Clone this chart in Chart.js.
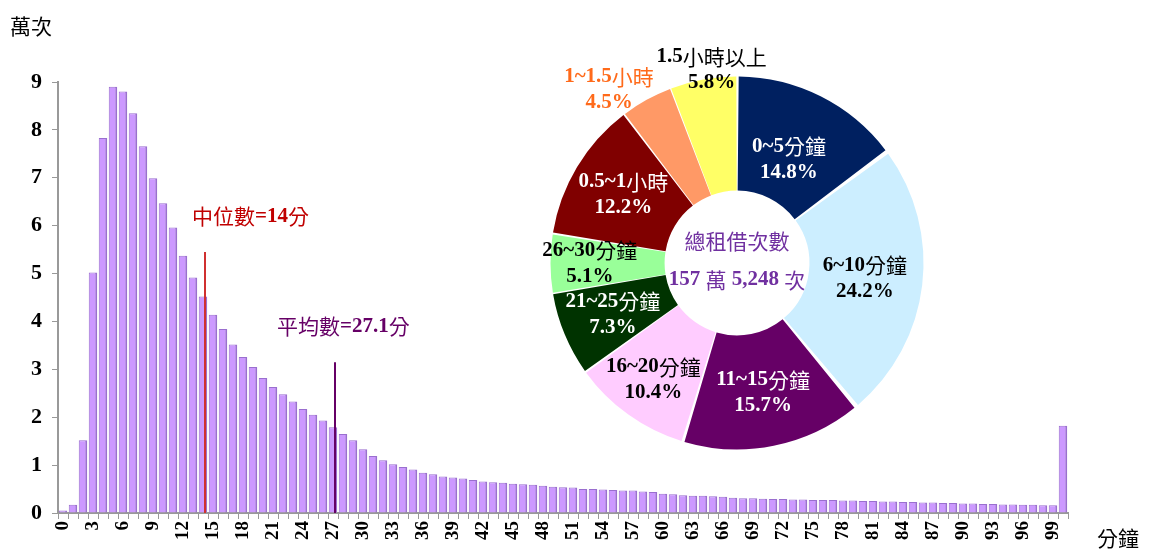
<!DOCTYPE html>
<html>
<head>
<meta charset="utf-8">
<script src="https://cdn.jsdelivr.net/npm/chart.js@4.4.6/dist/chart.umd.js"></script>
<style>
body { margin: 0; background: #fff; }
#wrap { position: relative; width: 1149px; height: 550px; }
#barChart { position: absolute; left: 0; top: 0; }
#pieChart { position: absolute; left: 517px; top: 33px; }
</style>
</head>
<body>
<div id="wrap">
  <canvas id="barChart" width="1149" height="550"></canvas>
  <canvas id="pieChart" width="440" height="460"></canvas>
</div>
<script>
// rental duration in minutes (0..100, last bar = 100+)
const minuteLabels = Array.from({ length: 101 }, (_, i) => String(i));
// rentals per minute, unit: 10,000
const rentals = [
  0.05, 0.17, 1.52, 5.02, 7.83, 8.90, 8.80, 8.35, 7.66, 6.99,
  6.47, 5.96, 5.37, 4.92, 4.52, 4.14, 3.84, 3.52, 3.26, 3.05,
  2.82, 2.63, 2.48, 2.33, 2.17, 2.05, 1.93, 1.79, 1.65, 1.52,
  1.33, 1.19, 1.10, 1.02, 0.96, 0.91, 0.84, 0.81, 0.76, 0.74,
  0.72, 0.69, 0.66, 0.64, 0.63, 0.61, 0.60, 0.59, 0.57, 0.55,
  0.54, 0.53, 0.50, 0.50, 0.49, 0.48, 0.47, 0.47, 0.45, 0.44,
  0.40, 0.39, 0.37, 0.36, 0.36, 0.35, 0.34, 0.32, 0.31, 0.31,
  0.30, 0.29, 0.29, 0.28, 0.28, 0.27, 0.27, 0.27, 0.26, 0.26,
  0.25, 0.25, 0.24, 0.24, 0.23, 0.23, 0.22, 0.22, 0.21, 0.21,
  0.20, 0.20, 0.19, 0.19, 0.18, 0.18, 0.17, 0.17, 0.16, 0.16,
  1.82
];
const yTicks = [0, 1, 2, 3, 4, 5, 6, 7, 8, 9];

const medianLabel = '中位數=14分';
const meanLabel = '平均數=27.1分';
const medianPos = 14.2;   // along the category axis
const meanPos = 27.2;
const medianTop = 5.45;   // line heights in 萬次
const meanTop = 3.15;

// doughnut: share of rentals by duration group
const groupNames = ['0~5分鐘', '6~10分鐘', '11~15分鐘', '16~20分鐘', '21~25分鐘', '26~30分鐘', '0.5~1小時', '1~1.5小時', '1.5小時以上'];
const groupShares = [14.8, 24.2, 15.7, 10.4, 7.3, 5.1, 12.2, 4.5, 5.8];
const groupColors = ['#002060', '#cceeff', '#660066', '#ffccff', '#003300', '#99ff99', '#800000', '#ff9966', '#ffff66'];
const groupTextColors = ['#fff', '#000', '#fff', '#000', '#fff', '#000', '#fff', '#ff6a1a', '#000'];
const labelRadius = [0.63, 0.70, 0.72, 0.78, 0.73, 0.80, 0.72, 1.17, 1.06];
const labelTurn = [0, 0, 0, 0, 0, 0, 0, -7.5, 3];   // degrees
const centerTitle = '總租借次數';
const centerTotal = '157 萬 5,248 次';

const serif = '"Liberation Serif", "Times New Roman", serif';
const cjk = '"Noto Sans CJK TC", sans-serif';

// latin runs bold serif, CJK runs regular
function drawMixed(ctx, text, x, y, size, align) {
  const runs = text.match(/[\u3000-\u9fff]+|[^\u3000-\u9fff]+/g);
  const fontOf = s => /[\u3000-\u9fff]/.test(s) ? size + 'px ' + cjk : 'bold ' + size + 'px ' + serif;
  let total = 0;
  runs.forEach(s => { ctx.font = fontOf(s); total += ctx.measureText(s).width; });
  let cx = align === 'center' ? x - total / 2 : x;
  ctx.textAlign = 'left';
  runs.forEach(s => {
    ctx.font = fontOf(s);
    ctx.fillText(s, cx, y);
    cx += ctx.measureText(s).width;
  });
}

const barExtras = {
  id: 'barExtras',
  afterDatasetsDraw(chart) {
    const { ctx } = chart;
    const x = chart.scales.x, y = chart.scales.y;
    ctx.save();
    // median / mean markers
    ctx.lineWidth = 2;
    ctx.strokeStyle = '#d03030';
    ctx.beginPath();
    ctx.moveTo(x.getPixelForValue(medianPos), y.getPixelForValue(0));
    ctx.lineTo(x.getPixelForValue(medianPos), y.getPixelForValue(medianTop));
    ctx.stroke();
    ctx.strokeStyle = '#660066';
    ctx.beginPath();
    ctx.moveTo(x.getPixelForValue(meanPos), y.getPixelForValue(0));
    ctx.lineTo(x.getPixelForValue(meanPos), y.getPixelForValue(meanTop));
    ctx.stroke();

    ctx.textBaseline = 'middle';
    ctx.fillStyle = '#c00000';
    drawMixed(ctx, medianLabel, x.getPixelForValue(medianPos) - 13, y.getPixelForValue(6.2), 21, 'left');
    ctx.fillStyle = '#660066';
    drawMixed(ctx, meanLabel, x.getPixelForValue(meanPos) - 58, y.getPixelForValue(3.9), 21, 'left');

    // axis titles
    ctx.fillStyle = '#000';
    ctx.textAlign = 'left';
    ctx.font = '21px ' + cjk;
    ctx.fillText('萬次', 10, 26);
    ctx.fillText('分鐘', 1097, 538);
    ctx.restore();
  }
};

new Chart(document.getElementById('barChart'), {
  type: 'bar',
  data: {
    labels: minuteLabels,
    datasets: [{
      data: rentals,
      backgroundColor: '#cc99ff',
      borderColor: '#9a6fcf',
      borderWidth: { top: 1, right: 2, left: 1, bottom: 0 },
      borderSkipped: false,
      barPercentage: 0.85,
      categoryPercentage: 1
    }]
  },
  options: {
    responsive: false,
    animation: false,
    layout: { padding: { top: 82, right: 81, left: 21, bottom: 8 } },
    plugins: { legend: { display: false }, tooltip: { enabled: false } },
    scales: {
      x: {
        grid: { drawOnChartArea: false, drawTicks: true, tickLength: 6, color: '#999', offset: true },
        border: { color: '#999', width: 2 },
        ticks: {
          autoSkip: false,
          maxRotation: 90,
          minRotation: 90,
          padding: 2,
          color: '#000',
          font: { family: serif, size: 19, weight: 'bold' },
          callback: (v, i) => (i % 3 === 0 && i < 100 ? minuteLabels[i] : '')
        }
      },
      y: {
        min: 0,
        max: 9,
        afterBuildTicks: (axis) => { axis.ticks = yTicks.map(v => ({ value: v })); },
        grid: { drawOnChartArea: false, drawTicks: true, tickLength: 6, color: '#999' },
        border: { color: '#999', width: 2 },
        ticks: {
          color: '#000',
          padding: 10,
          font: { family: serif, size: 22, weight: 'bold' }
        }
      }
    }
  },
  plugins: [barExtras]
});

const pieLabels = {
  id: 'pieLabels',
  afterDatasetsDraw(chart) {
    const { ctx } = chart;
    const arcs = chart.getDatasetMeta(0).data;
    ctx.save();
    ctx.textBaseline = 'middle';
    arcs.forEach((arc, i) => {
      const mid = (arc.startAngle + arc.endAngle) / 2 + labelTurn[i] * Math.PI / 180;
      const r = arc.outerRadius * labelRadius[i];
      const px = arc.x + Math.cos(mid) * r;
      const py = arc.y + Math.sin(mid) * r;
      ctx.fillStyle = groupTextColors[i];
      drawMixed(ctx, groupNames[i], px, py - 13, 21, 'center');
      drawMixed(ctx, groupShares[i].toFixed(1) + '%', px, py + 13, 21, 'center');
    });
    const c = arcs[0];
    ctx.fillStyle = '#7030a0';
    drawMixed(ctx, centerTitle, c.x, c.y - 22, 21, 'center');
    drawMixed(ctx, centerTotal, c.x, c.y + 17, 21, 'center');
    ctx.restore();
  }
};

new Chart(document.getElementById('pieChart'), {
  type: 'doughnut',
  data: {
    labels: groupNames,
    datasets: [{
      data: groupShares,
      backgroundColor: groupColors,
      borderWidth: 0,
      spacing: 5
    }]
  },
  options: {
    responsive: false,
    animation: false,
    radius: 184,
    cutout: '38%',
    layout: { padding: { top: 46, bottom: 46, left: 36, right: 36 } },
    plugins: { legend: { display: false }, tooltip: { enabled: false } }
  },
  plugins: [pieLabels]
});
</script>
</body>
</html>
